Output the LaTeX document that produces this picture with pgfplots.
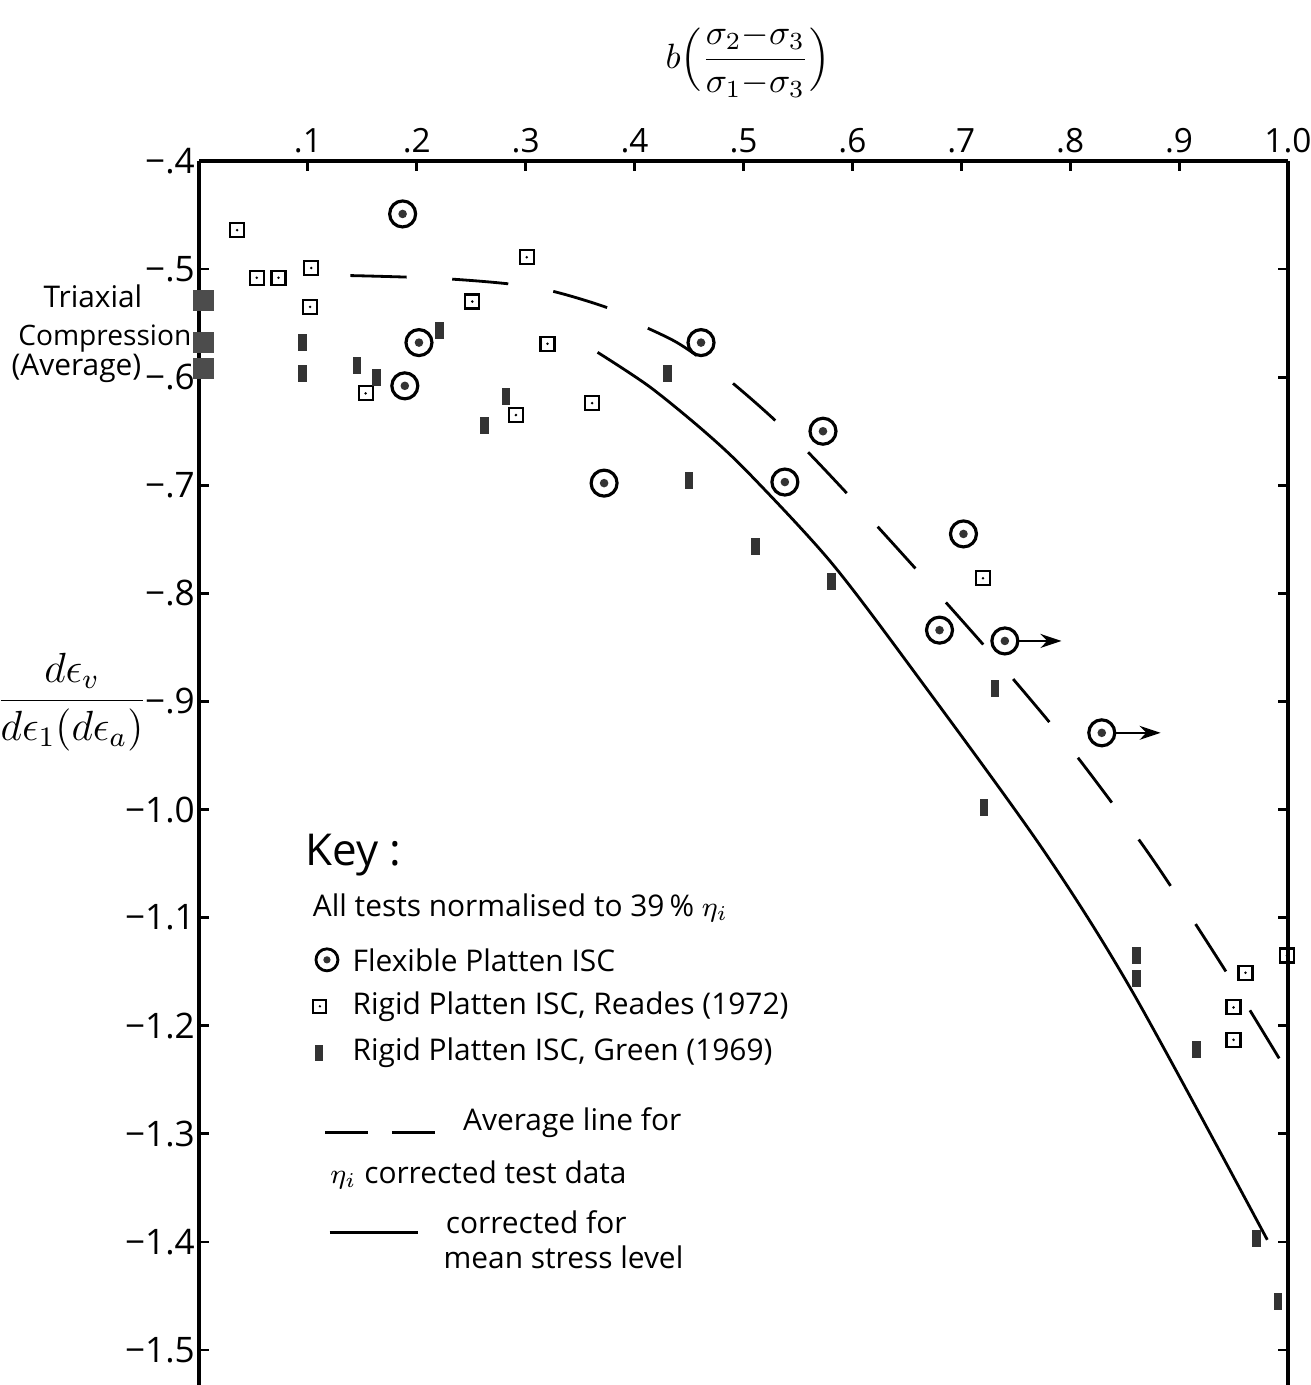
\documentclass[border=0pt]{standalone}
\usepackage{amsmath}
\usepackage{pgfplots}
\pgfplotsset{compat=1.18}
\usepackage{fontspec}
\setmainfont{Open Sans}
\usetikzlibrary{arrows.meta}

\pgfdeclareplotmark{flex}{%
  \pgfpathcircle{\pgfpointorigin}{\pgfplotmarksize}\pgfusepathqstroke
  \pgfpathcircle{\pgfpointorigin}{0.33\pgfplotmarksize}\pgfusepathqfill}
\pgfdeclareplotmark{rsq}{%
  \pgfpathrectangle{\pgfpoint{-\pgfplotmarksize}{-\pgfplotmarksize}}{\pgfpoint{2\pgfplotmarksize}{2\pgfplotmarksize}}\pgfusepathqstroke
  \pgfpathcircle{\pgfpointorigin}{0.2\pgfplotmarksize}\pgfusepathqfill}
\pgfdeclareplotmark{grect}{%
  \pgfpathrectangle{\pgfpoint{-0.5\pgfplotmarksize}{-\pgfplotmarksize}}{\pgfpoint{\pgfplotmarksize}{2\pgfplotmarksize}}\pgfusepathqfill}

\pgfplotstableread{
x y
0.187 -0.449
0.202 -0.568
0.189 -0.608
0.372 -0.698
0.461 -0.568
0.573 -0.650
0.538 -0.697
0.702 -0.745
0.680 -0.834
0.740 -0.844
0.829 -0.929
}\flexible

\pgfplotstableread{
x y
0.035 -0.464
0.053 -0.508
0.073 -0.508
0.103 -0.499
0.102 -0.535
0.153 -0.615
0.251 -0.530
0.301 -0.489
0.320 -0.569
0.291 -0.635
0.361 -0.624
0.720 -0.786
0.961 -1.151
0.950 -1.183
0.950 -1.213
0.999 -1.135
}\reades

\pgfplotstableread{
x y
0.095 -0.568
0.095 -0.597
0.145 -0.589
0.163 -0.600
0.221 -0.557
0.282 -0.618
0.262 -0.645
0.430 -0.597
0.450 -0.696
0.511 -0.757
0.581 -0.789
0.731 -0.888
0.721 -0.998
0.861 -1.135
0.861 -1.156
0.916 -1.222
0.971 -1.397
0.991 -1.455
}\green

\pgfplotstableread{
x y
0.139 -0.506
0.228 -0.509
0.309 -0.517
0.373 -0.535
0.400 -0.549
0.439 -0.568
0.476 -0.594
0.516 -0.628
0.556 -0.666
0.612 -0.726
0.682 -0.804
0.744 -0.875
0.804 -0.948
0.873 -1.042
0.940 -1.145
0.996 -1.237
}\avgline

\pgfplotstableread{
x y
0.366 -0.577
0.414 -0.609
0.465 -0.651
0.506 -0.690
0.581 -0.772
0.660 -0.877
0.775 -1.037
0.858 -1.170
0.981 -1.398
}\corrline

\begin{document}
\begin{tikzpicture}
\begin{axis}[
  at={(0,0)}, anchor=south west, scale only axis,
  width=10.89cm, height=12.24cm,
  xmin=0, xmax=1, ymin=-1.5323, ymax=-0.4,
  axis x line=top, axis y line=box,
  axis line style={-, line width=0.9pt},
  every outer x axis line/.append style={-},
  every outer y axis line/.append style={-},
  clip=false,
  tick align=inside, major tick length=0.1cm,
  tick style={line width=0.8pt, black},
  xtick={0.1,0.2,0.3,0.4,0.5,0.6,0.7,0.8,0.9,1},
  xticklabels={.1,.2,.3,.4,.5,.6,.7,.8,.9,1.0},
  ytick={-0.4,-0.5,-0.6,-0.7,-0.8,-0.9,-1.0,-1.1,-1.2,-1.3,-1.4,-1.5},
  yticklabels={−.4,−.5,−.6,−.7,−.8,−.9,−1.0,−1.1,−1.2,−1.3,−1.4,−1.5},
  yticklabel pos=left,
  xticklabel style={font=\fontsize{9.5}{11}\selectfont, inner sep=1pt, yshift=1pt},
  yticklabel style={font=\fontsize{10}{12}\selectfont, inner sep=1pt},
]
% curves
\addplot[smooth, line width=0.8pt, dash pattern=on 16pt off 13pt] table {\avgline};
\addplot[smooth, line width=0.8pt] table {\corrline};
% data
\addplot[only marks, mark=flex, mark size=0.13cm, mark options={line width=0.9pt, fill=black!80, draw=black}] table {\flexible};
\addplot[only marks, mark=rsq, mark size=0.07cm, mark options={line width=0.6pt, fill=black, draw=black}] table {\reades};
\addplot[only marks, mark=grect, mark size=0.085cm, mark options={fill=black!80}] table {\green};
\addplot[only marks, mark=square*, mark size=0.1cm, mark options={fill=black!70, draw=black!70}] coordinates {(0.004,-0.529) (0.004,-0.568) (0.004,-0.592)};
% arrows
\addplot[-{Stealth[length=6pt,width=4pt]}, line width=0.6pt] coordinates {(0.752,-0.844) (0.792,-0.844)};
\addplot[-{Stealth[length=6pt,width=4pt]}, line width=0.6pt] coordinates {(0.841,-0.929) (0.883,-0.929)};
% key symbols
\addplot[only marks, forget plot, mark=flex, mark size=0.11cm, mark options={line width=0.8pt, fill=black!80, draw=black}] coordinates {(0.1175,-1.139)};
\addplot[only marks, forget plot, mark=rsq, mark size=0.065cm, mark options={line width=0.6pt, fill=black, draw=black}] coordinates {(0.111,-1.182)};
\addplot[only marks, forget plot, mark=grect, mark size=0.08cm, mark options={fill=black!80}] coordinates {(0.110,-1.225)};
\addplot[forget plot, line width=0.8pt] coordinates {(0.116,-1.299) (0.155,-1.299)};
\addplot[forget plot, line width=0.8pt] coordinates {(0.177,-1.299) (0.217,-1.299)};
\addplot[forget plot, line width=0.8pt] coordinates {(0.120,-1.391) (0.201,-1.391)};
% key text
\node[anchor=west, font=\fontsize{12.5}{14}\selectfont, inner sep=0pt] at (axis cs:0.097,-1.042) {Key :};
\node[anchor=west, font=\fontsize{8.5}{10}\selectfont, inner sep=0pt] at (axis cs:0.104,-1.091) {All tests normalised to 39\,\% $\eta_i$};
\node[anchor=west, font=\fontsize{8.5}{10}\selectfont, inner sep=0pt] at (axis cs:0.1405,-1.139) {Flexible Platten ISC};
\node[anchor=west, font=\fontsize{8.5}{10}\selectfont, inner sep=0pt] at (axis cs:0.1405,-1.182) {Rigid Platten ISC, Reades (1972)};
\node[anchor=west, font=\fontsize{8.5}{10}\selectfont, inner sep=0pt] at (axis cs:0.1405,-1.225) {Rigid Platten ISC, Green (1969)};
\node[anchor=west, font=\fontsize{8.5}{10}\selectfont, inner sep=0pt] at (axis cs:0.242,-1.290) {Average line for};
\node[anchor=west, font=\fontsize{8.5}{10}\selectfont, inner sep=0pt] at (axis cs:0.120,-1.338) {$\eta_i$ corrected test data};
\node[anchor=west, font=\fontsize{8.5}{10}\selectfont, inner sep=0pt] at (axis cs:0.226,-1.382) {corrected for};
\node[anchor=west, font=\fontsize{8.5}{10}\selectfont, inner sep=0pt] at (axis cs:0.224,-1.414) {mean stress level};
% left labels
\node[anchor=east, font=\fontsize{8.5}{10}\selectfont, inner sep=0pt, xshift=-0.56cm] at (axis cs:0,-0.525) {Triaxial};
\node[anchor=east, font=\fontsize{8}{10}\selectfont, inner sep=0pt, xshift=-0.07cm] at (axis cs:0,-0.564) {Compression};
\node[anchor=east, font=\fontsize{8.5}{10}\selectfont, inner sep=0pt, xshift=-0.57cm] at (axis cs:0,-0.592) {(Average)};
\node[font=\large, inner sep=0pt, xshift=-1.27cm] at (axis cs:0,-0.9005) {$\dfrac{d\epsilon_v}{d\epsilon_1(d\epsilon_a)}$};
% top label
\node[font=\normalsize, inner sep=0pt, yshift=1.0cm] at (rel axis cs:0.504,1) {$b\Bigl(\dfrac{\sigma_2{-}\sigma_3}{\sigma_1{-}\sigma_3}\Bigr)$};
\end{axis}
\pgfresetboundingbox
\path (-1.99cm,0) rectangle (11.12cm,13.85cm);
\end{tikzpicture}
\end{document}
